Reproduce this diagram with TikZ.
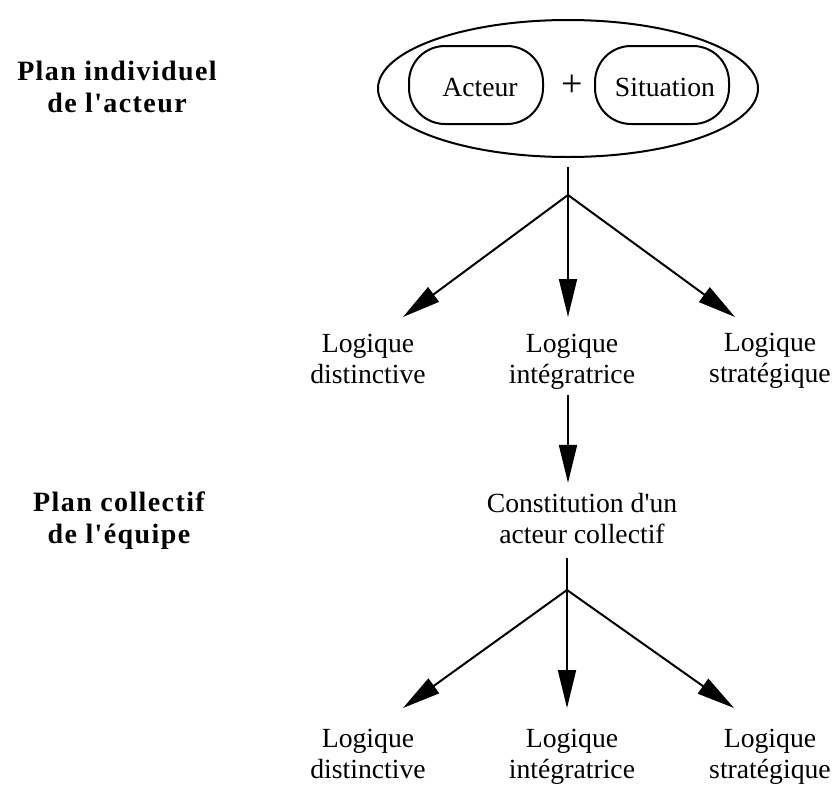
\documentclass[tikz,border=0pt]{standalone}
\usepackage{fontspec}
\setmainfont{Liberation Serif}[Ligatures=TeXOff]
\usetikzlibrary{arrows.meta,shapes.geometric}
\begin{document}
\begin{tikzpicture}[x=1pt,y=-1pt,
  every node/.style={font=\fontsize{27.7}{31}\selectfont, inner sep=0pt, outer sep=0pt},
  lab/.style={align=center, anchor=base},
  boldlab/.style={align=center, anchor=base,
    font=\fontsize{28}{32}\selectfont\bfseries\addfontfeature{LetterSpace=5}},
  box/.style={draw, line width=2pt, rounded corners=36pt, minimum width=134pt, minimum height=78pt},
  oval/.style={draw, line width=2pt, ellipse, minimum width=380pt, minimum height=137pt},
  line/.style={line width=2pt},
  arr/.style={line width=2pt, -{Triangle[length=38pt,width=18pt]}}]
\useasboundingbox (0,0) rectangle (836,785);

% side titles (base = baseline of the last line)
\node[boldlab] (p1) at (117,112) {Plan individuel\\de l'acteur};
\node[boldlab] (p2) at (119,543) {Plan collectif\\de l'équipe};

% top ellipse
\node[oval] (ell) at (568,88.5) {};
\node[box] (act) at (476,85) {};
\node (acttxt) at (480,87) {Acteur};
\node[box] (sit) at (662,85) {};
\node (sittxt) at (665,87) {Situation};
\node[font=\fontsize{38}{40}\selectfont] (plus) at (572,86) {+};

% first tree
\coordinate (b1) at (568,195);
\coordinate (t1a) at (403,317);
\coordinate (t1b) at (568,317);
\coordinate (t1c) at (735,317);
\draw[line, shorten <=10pt] (ell.south) -- (b1);
\draw[arr] (b1) -- (t1a);
\draw[arr] (b1) -- (t1b);
\draw[arr] (b1) -- (t1c);

\node[lab] (l1a) at (368,383) {Logique\\distinctive};
\node[lab] (l1b) at (572,383) {Logique\\intégratrice};
\node[lab] (l1c) at (770,382) {Logique\\stratégique};

% collective
\node[lab] (cons) at (582,543) {Constitution d'un\\acteur collectif};
\draw[arr, shorten <=6pt, shorten >=10pt] (l1b.south -| b1) -- (cons.north -| b1);

% second tree
\coordinate (b2) at (567,590);
\coordinate (t2a) at (403,708);
\coordinate (t2b) at (567,708);
\coordinate (t2c) at (734,708);
\draw[line, shorten <=15pt] (cons.south -| b2) -- (b2);
\draw[arr] (b2) -- (t2a);
\draw[arr] (b2) -- (t2b);
\draw[arr] (b2) -- (t2c);

\node[lab] (l2a) at (368,778) {Logique\\distinctive};
\node[lab] (l2b) at (572,778) {Logique\\intégratrice};
\node[lab] (l2c) at (770,778) {Logique\\stratégique};
\end{tikzpicture}
\end{document}
